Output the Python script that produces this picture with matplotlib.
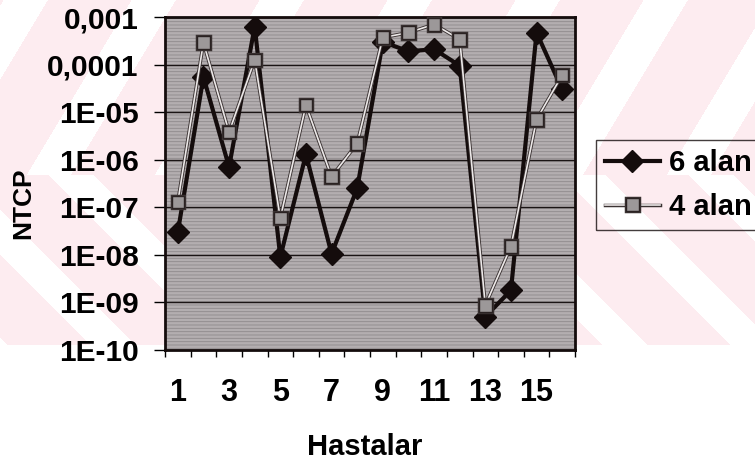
import numpy as np
import matplotlib.pyplot as plt
import matplotlib.patheffects as pe

# veriler (grafikten okunan yaklasik degerler)
hastalar = np.arange(1, 17)
ntcp_6alan = [3e-8, 5.5e-5, 7e-7, 6.3e-4, 9e-9, 1.3e-6, 1.05e-8, 2.5e-7,
              3e-4, 1.9e-4, 2.1e-4, 9.5e-5, 5e-10, 1.8e-9, 4.7e-4, 3e-5]
ntcp_4alan = [1.3e-7, 2.9e-4, 3.8e-6, 1.25e-4, 5.9e-8, 1.4e-5, 4.4e-7, 2.2e-6,
              3.7e-4, 4.7e-4, 7e-4, 3.4e-4, 8.7e-10, 1.5e-8, 7e-6, 6e-5]
ytick_vals = [1e-3, 1e-4, 1e-5, 1e-6, 1e-7, 1e-8, 1e-9, 1e-10]
ytick_labels = ['0,001', '0,0001', '1E-05', '1E-06', '1E-07', '1E-08', '1E-09', '1E-10']
xtick_vals = [1, 3, 5, 7, 9, 11, 13, 15]

plt.rcParams['font.family'] = ['Liberation Sans', 'DejaVu Sans']
plt.rcParams['hatch.linewidth'] = 0.6

W, H = 755, 470
fig = plt.figure(figsize=(W / 100, H / 100), dpi=100)

# arka plandaki soluk pembe filigran
bg = fig.add_axes([0, 0, 1, 1], zorder=-5)
bg.axis('off')
yy, xx = np.mgrid[0:H, 0:W]
ust = (xx + 0.6 * yy - 25 + 64) % 128 - 64
alt = (xx - yy - 24 + 64) % 128 - 64
d = np.where(yy < 175, ust, alt)
pembe = (np.abs(d) > 22) & (yy < 345)
img = np.ones((H, W, 3))
img[pembe] = (253 / 255, 236 / 255, 240 / 255)
bg.imshow(img, extent=(0, W, H, 0), aspect='auto', interpolation='nearest')

# grafik alani
ax = fig.add_axes([165 / W, 1 - 350 / H, 410 / W, 333 / H])
ax.set_facecolor('#b3aeb0')
ax.patch.set_hatch('-----')
ax.patch.set_edgecolor('#8f898b')

ax.plot(hastalar, ntcp_6alan, color='#140c0c', lw=3, marker='D', markersize=11,
        markerfacecolor='#140c0c', markeredgecolor='#140c0c', label='6 alan', zorder=3)
ax.plot(hastalar, ntcp_4alan, color='#ece8e8', lw=1.2, marker='s', markersize=9,
        markerfacecolor='#9c9899', markeredgecolor='#2a2222', markeredgewidth=1,
        label='4 alan', zorder=4,
        path_effects=[pe.Stroke(linewidth=2.5, foreground='#3a3232'), pe.Normal()])

ax.set_yscale('log')
ax.set_ylim(1e-10, 1e-3)
ax.set_xlim(0.5, 16.5)
ax.set_yticks(ytick_vals)
ax.set_yticklabels(ytick_labels)
ax.yaxis.set_minor_locator(plt.NullLocator())
ax.grid(True, axis='y', color='#1a1414', lw=1)
ax.set_axisbelow(True)

ax.set_xticks(xtick_vals)
ax.set_xticklabels([str(v) for v in xtick_vals])
ax.set_xticks(np.arange(0.5, 17, 1), minor=True)
ax.tick_params(axis='x', which='major', length=0, pad=20, labelsize=22)
ax.tick_params(axis='x', which='minor', length=5, width=1, direction='out')
ax.tick_params(axis='y', which='major', length=8, width=1, pad=11, labelsize=21.5)
for t in ax.get_xticklabels() + ax.get_yticklabels():
    t.set_fontweight('bold')

for s in ax.spines.values():
    s.set_linewidth(2)
    s.set_color('#140c0c')

ax.set_xlabel('Hastalar', fontsize=21, fontweight='bold')
ax.xaxis.set_label_coords(0.488, -0.29)
ax.xaxis.label.set_va('center')
ax.set_ylabel('NTCP', fontsize=19, fontweight='bold')
ax.yaxis.set_label_coords(-0.346, 0.44)
ax.yaxis.label.set_va('center')

leg = ax.legend(loc='upper left', bbox_to_anchor=(596 / W, 1 - 140 / H),
                bbox_transform=fig.transFigure, frameon=True,
                prop={'size': 21, 'weight': 'bold'},
                fancybox=False, edgecolor='#140c0c', facecolor='none',
                handlelength=1.9, handletextpad=0.3, labelspacing=0.55,
                borderpad=0.3, borderaxespad=0)
leg.get_frame().set_linewidth(1)

fig.savefig('out.png', dpi=100)
